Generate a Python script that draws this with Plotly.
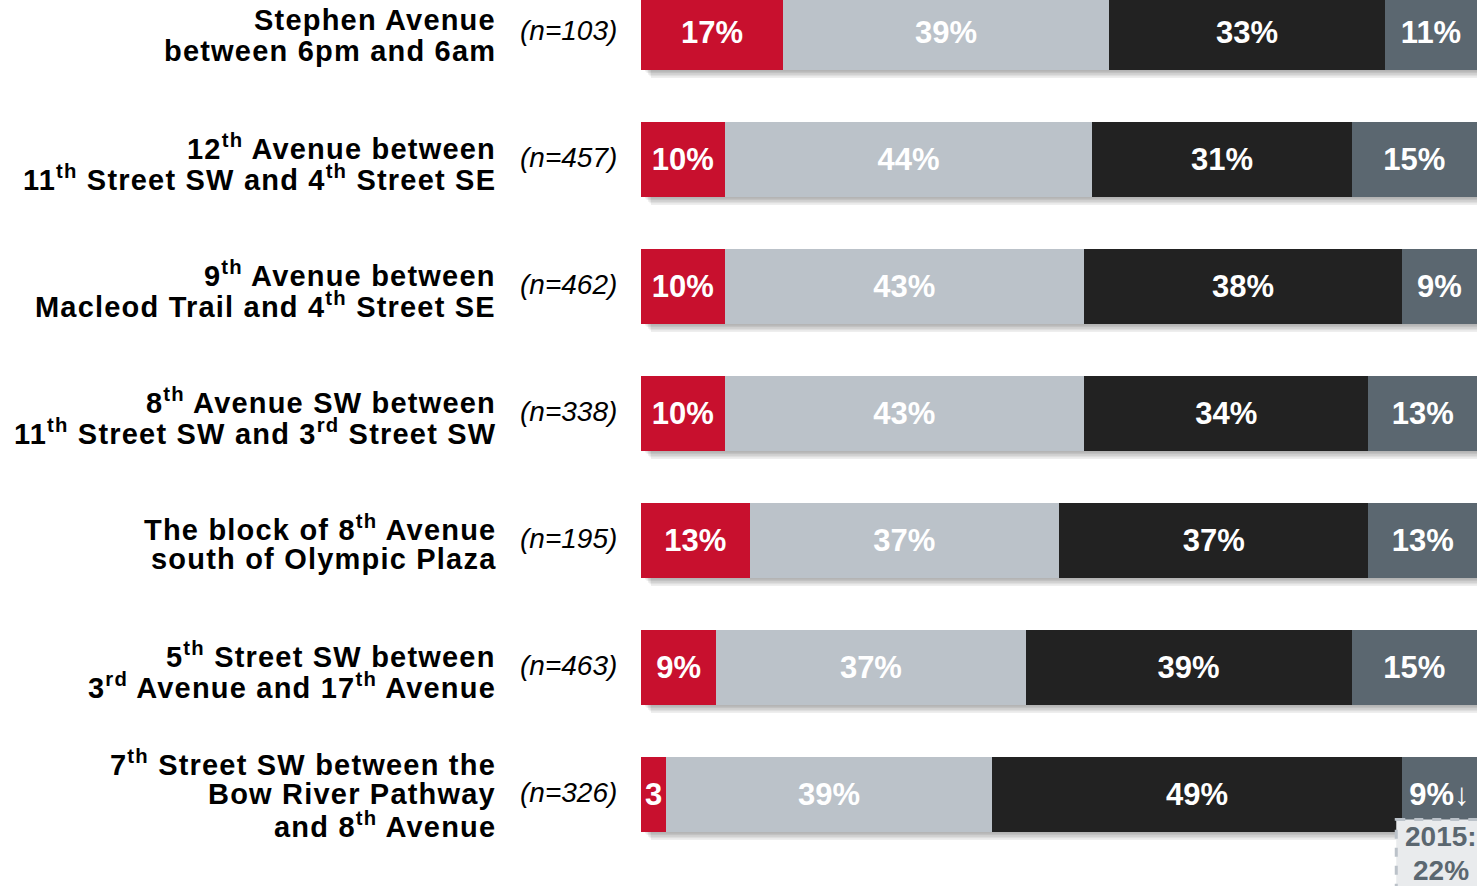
import plotly.graph_objects as go

# ---- data ----
label_lines = [
    ["Stephen Avenue", "between 6pm and 6am"],
    ["12<sup>th</sup> Avenue between", "11<sup>th</sup> Street SW and 4<sup>th</sup> Street SE"],
    ["9<sup>th</sup> Avenue between", "Macleod Trail and 4<sup>th</sup> Street SE"],
    ["8<sup>th</sup> Avenue SW between", "11<sup>th</sup> Street SW and 3<sup>rd</sup> Street SW"],
    ["The block of 8<sup>th</sup> Avenue", "south of Olympic Plaza"],
    ["5<sup>th</sup> Street SW between", "3<sup>rd</sup> Avenue and 17<sup>th</sup> Avenue"],
    ["7<sup>th</sup> Street SW between the", "Bow River Pathway", "and 8<sup>th</sup> Avenue"],
]
n_values = [103, 457, 462, 338, 195, 463, 326]

red_vals = [17, 10, 10, 10, 13, 9, 3]
gray_vals = [39, 44, 43, 43, 37, 37, 39]
black_vals = [33, 31, 38, 34, 37, 39, 49]
slate_vals = [11, 15, 9, 13, 13, 15, 9]

red_text = ["17%", "10%", "10%", "10%", "13%", "9%", "3"]
gray_text = ["39%", "44%", "43%", "43%", "37%", "37%", "39%"]
black_text = ["33%", "31%", "38%", "34%", "37%", "39%", "49%"]
slate_text = ["11%", "15%", "9%", "13%", "13%", "15%", "9%<b>↓</b>"]

note_lines = ["2015:", "22%"]

# ---- styles ----
RED = "#C8102E"
GRAY = "#BBC2C9"
BLACK = "#222222"
SLATE = "#5B6770"
FONT = "Liberation Sans, Arial, sans-serif"

W, H = 1480, 886
L_MARGIN, R_MARGIN = 641, 3
PLOT_W = W - L_MARGIN - R_MARGIN
ROW_PX = 127
FIRST_ROW_PX = 32
y_top = -FIRST_ROW_PX / ROW_PX
y_bot = y_top + H / ROW_PX
BAR_W = 75 / ROW_PX
px_x = 100 / PLOT_W
px_y = 1 / ROW_PX

rows = list(range(len(n_values)))

fig = go.Figure()
series = [
    (red_vals, red_text, RED),
    (gray_vals, gray_text, GRAY),
    (black_vals, black_text, BLACK),
    (slate_vals, slate_text, SLATE),
]
for vals, txt, col in series:
    fig.add_trace(go.Bar(
        y=rows, x=vals, orientation="h", width=BAR_W,
        marker=dict(color=col, line=dict(width=0)),
        text=txt, textposition="inside", insidetextanchor="middle",
        textangle=0,
        textfont=dict(family=FONT, size=31, color="white", weight="bold"),
        showlegend=False, hoverinfo="skip",
    ))

shapes = []
# drop shadows
for i, row in enumerate(rows):
    total = red_vals[i] + gray_vals[i] + black_vals[i] + slate_vals[i]
    for k in range(5):
        dx = (4 + k * 1.5) * px_x
        dy = (2 + k * 1.6) * px_y
        shapes.append(dict(
            type="rect", xref="x", yref="y", layer="below",
            x0=dx, x1=total + dx,
            y0=row - BAR_W / 2 + dy, y1=row + BAR_W / 2 + dy,
            fillcolor="rgba(0,0,0,0.065)", line=dict(width=0),
        ))

# 2015 note box under last slate segment (overlaps the bar's lower edge)
last = rows[-1]
seg_start = red_vals[-1] + gray_vals[-1] + black_vals[-1]
bar_bottom = last + BAR_W / 2
shapes.append(dict(
    type="rect", xref="x", yref="y", layer="above",
    x0=seg_start - 5.5 * px_x, x1=100 + 8 * px_x,
    y0=bar_bottom - 12 * px_y, y1=bar_bottom + 0.7,
    fillcolor="#E9EBED", line=dict(color="#BBC2C9", width=3, dash="dash"),
))

annotations = []
offsets = {2: [-12, 19], 3: [-31, 0, 31]}
for i, row in enumerate(rows):
    lines = label_lines[i]
    for j, line in enumerate(lines):
        annotations.append(dict(
            xref="paper", yref="y", x=0, y=row, xanchor="right", yanchor="middle",
            xshift=-143, yshift=-offsets[len(lines)][j],
            text="<b><span style='letter-spacing:1.2px'>" + line + "</span></b>",
            showarrow=False,
            font=dict(family=FONT, size=29, color="black"),
        ))
    annotations.append(dict(
        xref="paper", yref="y", x=0, y=row, xanchor="right", yanchor="middle",
        xshift=-22, yshift=2,
        text="<i>(n=%d)</i>" % n_values[i], showarrow=False,
        font=dict(family=FONT, size=28, color="black"),
    ))

note_x = (seg_start - 5.5 * px_x + 100 + 8 * px_x) / 2
for j, line in enumerate(note_lines):
    annotations.append(dict(
        xref="x", yref="y", x=note_x, y=bar_bottom, xanchor="center", yanchor="middle",
        yshift=-(5 + j * 34),
        text="<b>" + line + "</b>", showarrow=False,
        font=dict(family=FONT, size=28, color=SLATE),
    ))

fig.update_layout(
    barmode="stack",
    width=W, height=H,
    margin=dict(l=L_MARGIN, r=R_MARGIN, t=0, b=0, pad=0),
    paper_bgcolor="white", plot_bgcolor="white",
    xaxis=dict(range=[0, 100], visible=False, fixedrange=True),
    yaxis=dict(range=[y_bot, y_top], visible=False, fixedrange=True),
    uniformtext=dict(minsize=31, mode="show"),
    shapes=shapes, annotations=annotations,
    font=dict(family=FONT),
)

fig.write_html(
    "out.html",
    config={"displayModeBar": False},
    post_script="document.body.style.margin='0px';document.body.style.overflow='hidden';",
)
